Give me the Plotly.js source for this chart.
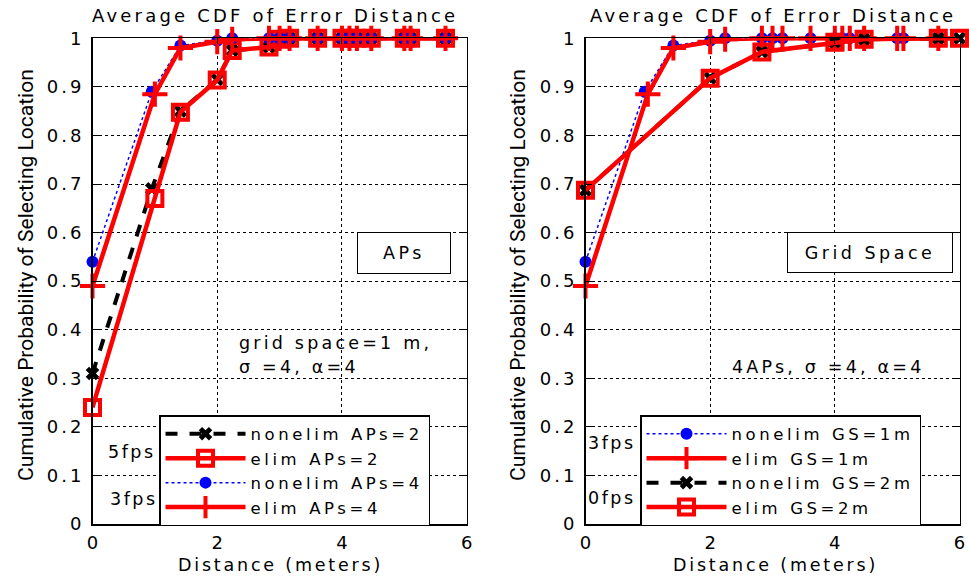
<!DOCTYPE html>
<html>
<head>
<meta charset="utf-8">
<script src="https://cdn.plot.ly/plotly-3.0.1.min.js"></script>
<style>
  html, body { margin: 0; padding: 0; background: #fff; }
  #chart { width: 969px; height: 578px; }
</style>
</head>
<body>
<div id="chart"></div>
<script>
// Error distances (m) at which the CDF is sampled
const dist1m = [0, 1, 1.41, 2, 2.24, 2.83, 3, 3.16, 3.61, 4, 4.12, 4.24, 4.47, 5, 5.1, 5.66];
const dist1mShifted = [0, 0.95, 1.41, 2, 2.24, 2.83, 3, 3.16, 3.61, 4, 4.12, 4.24, 4.47, 5, 5.1, 5.66];
const dist2m = [0, 2, 2.83, 4, 4.47, 5.66, 6];

// Left panel: number of access points
const nonelimAPs2 = [0.31, 0.69, 0.85, 0.915, 0.975, 0.982, 0.998, 1, 1, 1, 1, 1, 1, 1, 1, 1];
const elimAPs2    = [0.24, 0.67, 0.848, 0.914, 0.975, 0.982, 0.998, 1, 1, 1, 1, 1, 1, 1, 1, 1];
const nonelimAPs4 = [0.54, 0.89, 0.985, 0.995, 1, 1, 1, 1, 1, 1, 1, 1, 1, 1, 1, 1];
const elimAPs4    = [0.49, 0.885, 0.98, 0.993, 0.998, 1, 1, 1, 1, 1, 1, 1, 1, 1, 1, 1];

// Right panel: grid spacing
const nonelimGS1m = [0.54, 0.89, 0.985, 0.995, 1, 1, 1, 1, 1, 1, 1, 1, 1, 1, 1, 1];
const elimGS1m    = [0.49, 0.885, 0.98, 0.993, 0.998, 1, 1, 1, 1, 1, 1, 1, 1, 1, 1, 1];
const nonelimGS2m = [0.687, 0.918, 0.972, 0.992, 0.998, 1, 1];
const elimGS2m    = [0.687, 0.918, 0.972, 0.992, 0.998, 1, 1];

const legendLeft  = ['nonelim APs=2', 'elim APs=2', 'nonelim APs=4', 'elim APs=4'];
const legendRight = ['nonelim GS=1m', 'elim GS=1m', 'nonelim GS=2m', 'elim GS=2m'];

const xTickVals = [0, 2, 4, 6];
const yTickVals = [0, 0.1, 0.2, 0.3, 0.4, 0.5, 0.6, 0.7, 0.8, 0.9, 1];
const yTickText = ['0', '0.1', '0.2', '0.3', '0.4', '0.5', '0.6', '0.7', '0.8', '0.9', '1'];

const FONT = 'DejaVu Sans, Open Sans, sans-serif';
const RED = '#ff0000';

// widely tracked lettering
const sp = (t, ls) => `<span style="letter-spacing:${ls}px">${t}</span>`;

function blackX(x, y, name, ax, leg) {
  return { x, y, name: sp(name, 3.6), xaxis: ax[0], yaxis: ax[1], legend: leg, type: 'scatter', mode: 'lines+markers',
    cliponaxis: false,
    line: { color: '#000', width: 4, dash: 'dash' },
    marker: { symbol: 'x', size: 12, color: '#000' } };
}
function redSquare(x, y, name, ax, leg) {
  return { x, y, name: sp(name, 3.6), xaxis: ax[0], yaxis: ax[1], legend: leg, type: 'scatter', mode: 'lines+markers',
    cliponaxis: false,
    line: { color: RED, width: 4.5 },
    marker: { symbol: 'square-open', size: 15, color: RED, line: { color: RED, width: 4 } } };
}
function blueDot(x, y, name, ax, leg) {
  return { x, y, name: sp(name, 3.6), xaxis: ax[0], yaxis: ax[1], legend: leg, type: 'scatter', mode: 'lines+markers',
    cliponaxis: false,
    line: { color: '#0000ff', width: 1.5, dash: 'dot' },
    marker: { symbol: 'circle', size: 12, color: '#0000ff' } };
}
function redPlus(x, y, name, ax, leg) {
  return { x, y, name: sp(name, 3.6), xaxis: ax[0], yaxis: ax[1], legend: leg, type: 'scatter', mode: 'lines+markers',
    cliponaxis: false,
    line: { color: RED, width: 4.5 },
    marker: { symbol: 'cross-thin-open', size: 18, color: RED, line: { color: RED, width: 4 } } };
}

const L = ['x', 'y'], R = ['x2', 'y2'];
const traces = [
  blackX(dist1mShifted, nonelimAPs2, legendLeft[0], L, 'legend'),
  redSquare(dist1m, elimAPs2, legendLeft[1], L, 'legend'),
  blueDot(dist1mShifted, nonelimAPs4, legendLeft[2], L, 'legend'),
  redPlus(dist1m, elimAPs4, legendLeft[3], L, 'legend'),

  blueDot(dist1mShifted, nonelimGS1m, legendRight[0], R, 'legend2'),
  redPlus(dist1m, elimGS1m, legendRight[1], R, 'legend2'),
  blackX(dist2m, nonelimGS2m, legendRight[2], R, 'legend2'),
  redSquare(dist2m, elimGS2m, legendRight[3], R, 'legend2')
];

const W = 969, H = 578;
const px = v => v / W;
const py = v => 1 - v / H;

function xAxis(domain, anchor) {
  return {
    domain, anchor, range: [0, 6],
    tickmode: 'array', tickvals: xTickVals, ticktext: xTickVals.map(v => String(v)),
    showline: true, linecolor: '#000', linewidth: 1.5, mirror: 'ticks',
    ticks: 'inside', ticklen: 6, tickcolor: '#000',
    showgrid: true, gridcolor: '#000', griddash: 'dot', gridwidth: 1,
    zeroline: false, fixedrange: true, ticklabelstandoff: 2,
    tickfont: { family: FONT, size: 18, color: '#000' }
  };
}
function yAxis(domain, anchor) {
  return {
    domain, anchor, range: [0, 1],
    tickmode: 'array', tickvals: yTickVals, ticktext: yTickText.map(t => sp(t, 3)),
    showline: true, linecolor: '#000', linewidth: 1.5, mirror: 'ticks',
    ticks: 'inside', ticklen: 6, tickcolor: '#000',
    showgrid: true, gridcolor: '#000', griddash: 'dot', gridwidth: 1,
    zeroline: false, fixedrange: true, ticklabelstandoff: 3,
    tickfont: { family: FONT, size: 18, color: '#000' }
  };
}

const yDom = [py(524), py(38.3)];

const legendBase = {
  bgcolor: '#fff', bordercolor: '#000', borderwidth: 1.5,
  font: { family: FONT, size: 16.5, color: '#000' },
  itemwidth: 80, xanchor: 'left', yanchor: 'top', tracegroupgap: 0
};

function txt(x, y, text, size, extra) {
  return Object.assign({ xref: 'paper', yref: 'paper', x: px(x), y: py(y), text, showarrow: false,
    xanchor: 'center', yanchor: 'middle',
    font: { family: FONT, size: size, color: '#000' } }, extra || {});
}
const NARROW = { family: 'Liberation Sans Narrow, Roboto, sans-serif', size: 21, color: '#000' };

const annotations = [
  txt(275, 16, sp('Average CDF of Error Distance', 3.2), 18),
  txt(773, 16, sp('Average CDF of Error Distance', 3.2), 18),
  txt(280, 565, sp('Distance (meters)', 2.8), 17.5),
  txt(775, 565, sp('Distance (meters)', 2.8), 17.5),
  txt(26, 275, 'Cumulative Probability of Selecting Location', 21, { textangle: -90, font: NARROW }),
  txt(518, 275, 'Cumulative Probability of Selecting Location', 21, { textangle: -90, font: NARROW }),
  txt(404, 253, sp('APs', 3.5), 17.5, { bordercolor: '#000', borderwidth: 1, width: 90, height: 38, bgcolor: '#fff' }),
  txt(870, 252, sp('Grid Space', 3.5), 17.5, { bordercolor: '#000', borderwidth: 1, width: 162, height: 37, bgcolor: '#fff' }),
  txt(237, 343, sp('grid space=1 m,', 3.2), 17.5, { xanchor: 'left' }),
  txt(237, 367, sp('σ =4, α=4', 3.2), 17.5, { xanchor: 'left' }),
  txt(730, 367, sp('4APs, σ =4, α=4', 3.2), 17.5, { xanchor: 'left' }),
  txt(132, 452, sp('5fps', 2.5), 17.5),
  txt(134, 499, sp('3fps', 2.5), 17.5),
  txt(612, 443, sp('3fps', 2.5), 17.5),
  txt(612, 498, sp('0fps', 2.5), 17.5)
];

const layout = {
  width: W, height: H,
  margin: { l: 0, r: 0, t: 0, b: 0 },
  paper_bgcolor: '#fff', plot_bgcolor: '#fff',
  showlegend: true,
  xaxis: xAxis([px(92.5), px(466.7)], 'y'),
  yaxis: yAxis(yDom, 'x'),
  xaxis2: xAxis([px(585.5), px(959.5)], 'y2'),
  yaxis2: yAxis(yDom, 'x2'),
  legend: Object.assign({}, legendBase, { x: px(159), y: py(415) }),
  legend2: Object.assign({}, legendBase, { x: px(640), y: py(415) }),
  annotations
};

Plotly.newPlot('chart', traces, layout, { displayModeBar: false, staticPlot: true });
</script>
</body>
</html>
